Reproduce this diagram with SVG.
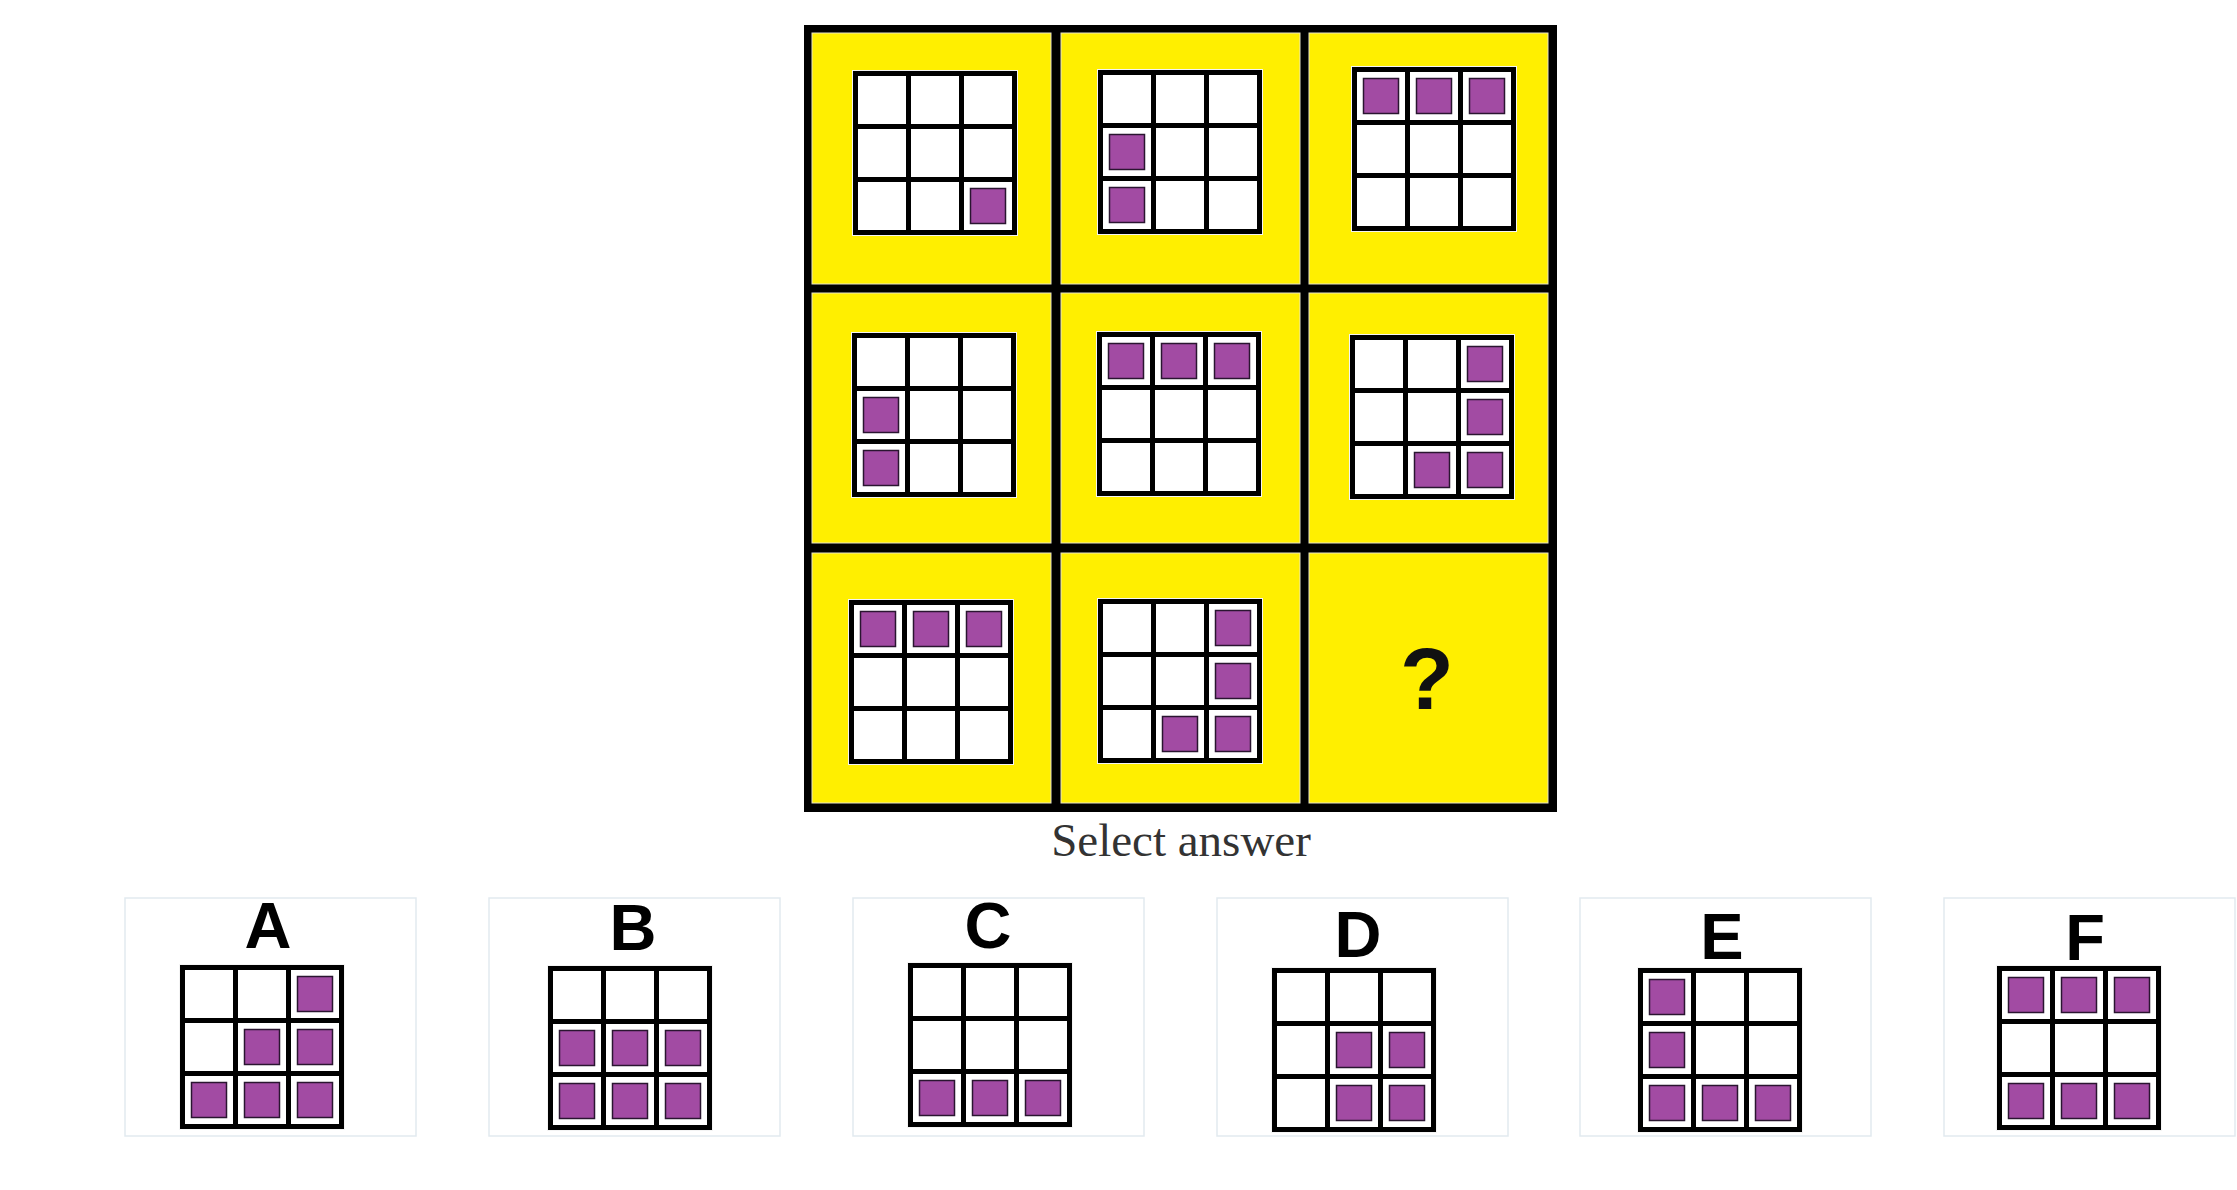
<svg xmlns="http://www.w3.org/2000/svg" xmlns:xlink="http://www.w3.org/1999/xlink" width="2237" height="1190" viewBox="0 0 2237 1190">
<style>
.ylw{fill:#FFEF00;stroke:#e8e4c8;stroke-width:1}
.pp{fill:#A24BA3;stroke:#2a1530;stroke-width:1.5}
.box{fill:#ffffff;stroke:#e2eaef;stroke-width:1.5}
.lbl{font-family:"Liberation Sans",Arial,sans-serif;font-weight:bold;font-size:65px;fill:#000;text-anchor:middle}
.q{font-family:"Liberation Sans",Arial,sans-serif;font-weight:bold;font-size:88px;fill:#111;text-anchor:middle}
.sel{font-family:"Liberation Serif","Times New Roman",serif;font-size:47px;fill:#333;text-anchor:middle}
</style>
<defs>
<g id="g3">
<rect x="-1" y="-1" width="166" height="166" fill="#f4f4f4"/>
<rect x="0" y="0" width="164" height="164" fill="#000"/>
<rect x="5" y="5" width="48" height="48" fill="#fff"/>
<rect x="58" y="5" width="48" height="48" fill="#fff"/>
<rect x="111" y="5" width="48" height="48" fill="#fff"/>
<rect x="5" y="58" width="48" height="48" fill="#fff"/>
<rect x="58" y="58" width="48" height="48" fill="#fff"/>
<rect x="111" y="58" width="48" height="48" fill="#fff"/>
<rect x="5" y="111" width="48" height="48" fill="#fff"/>
<rect x="58" y="111" width="48" height="48" fill="#fff"/>
<rect x="111" y="111" width="48" height="48" fill="#fff"/>
</g>
<rect id="p00" class="pp" x="11.5" y="11.5" width="35" height="35"/>
<rect id="p01" class="pp" x="64.5" y="11.5" width="35" height="35"/>
<rect id="p02" class="pp" x="117.5" y="11.5" width="35" height="35"/>
<rect id="p10" class="pp" x="11.5" y="64.5" width="35" height="35"/>
<rect id="p11" class="pp" x="64.5" y="64.5" width="35" height="35"/>
<rect id="p12" class="pp" x="117.5" y="64.5" width="35" height="35"/>
<rect id="p20" class="pp" x="11.5" y="117.5" width="35" height="35"/>
<rect id="p21" class="pp" x="64.5" y="117.5" width="35" height="35"/>
<rect id="p22" class="pp" x="117.5" y="117.5" width="35" height="35"/>
</defs>
<rect x="0" y="0" width="2237" height="1190" fill="#fff"/>

<g id="matrix">
<rect x="804" y="25" width="753" height="787" fill="#000"/>
<g id="cell-1-1"><rect class="ylw" x="812" y="33" width="239" height="251"/>
<g transform="translate(853,71)"><use xlink:href="#g3"/><use xlink:href="#p22"/></g></g>
<g id="cell-1-2"><rect class="ylw" x="1061" y="33" width="239" height="251"/>
<g transform="translate(1098,70)"><use xlink:href="#g3"/><use xlink:href="#p10"/><use xlink:href="#p20"/></g></g>
<g id="cell-1-3"><rect class="ylw" x="1309" y="33" width="239" height="251"/>
<g transform="translate(1352,67)"><use xlink:href="#g3"/><use xlink:href="#p00"/><use xlink:href="#p01"/><use xlink:href="#p02"/></g></g>
<g id="cell-2-1"><rect class="ylw" x="812" y="293" width="239" height="250"/>
<g transform="translate(852,333)"><use xlink:href="#g3"/><use xlink:href="#p10"/><use xlink:href="#p20"/></g></g>
<g id="cell-2-2"><rect class="ylw" x="1061" y="293" width="239" height="250"/>
<g transform="translate(1097,332)"><use xlink:href="#g3"/><use xlink:href="#p00"/><use xlink:href="#p01"/><use xlink:href="#p02"/></g></g>
<g id="cell-2-3"><rect class="ylw" x="1309" y="293" width="239" height="250"/>
<g transform="translate(1350,335)"><use xlink:href="#g3"/><use xlink:href="#p02"/><use xlink:href="#p12"/><use xlink:href="#p21"/><use xlink:href="#p22"/></g></g>
<g id="cell-3-1"><rect class="ylw" x="812" y="553" width="239" height="250"/>
<g transform="translate(849,600)"><use xlink:href="#g3"/><use xlink:href="#p00"/><use xlink:href="#p01"/><use xlink:href="#p02"/></g></g>
<g id="cell-3-2"><rect class="ylw" x="1061" y="553" width="239" height="250"/>
<g transform="translate(1098,599)"><use xlink:href="#g3"/><use xlink:href="#p02"/><use xlink:href="#p12"/><use xlink:href="#p21"/><use xlink:href="#p22"/></g></g>
<g id="cell-3-3"><rect class="ylw" x="1309" y="553" width="239" height="250"/>
<text class="q" x="1427" y="709">?</text></g>
</g>

<text id="select" class="sel" x="1181" y="856">Select answer</text>

<g id="connectors"></g>

<g id="answer-A"><rect class="box" x="125" y="898" width="291" height="238"/>
<text class="lbl" x="268" y="948">A</text>
<g transform="translate(180,965)"><use xlink:href="#g3"/><use xlink:href="#p02"/><use xlink:href="#p11"/><use xlink:href="#p12"/><use xlink:href="#p20"/><use xlink:href="#p21"/><use xlink:href="#p22"/></g></g>

<g id="answer-B"><rect class="box" x="489" y="898" width="291" height="238"/>
<text class="lbl" x="633" y="950">B</text>
<g transform="translate(548,966)"><use xlink:href="#g3"/><use xlink:href="#p10"/><use xlink:href="#p11"/><use xlink:href="#p12"/><use xlink:href="#p20"/><use xlink:href="#p21"/><use xlink:href="#p22"/></g></g>

<g id="answer-C"><rect class="box" x="853" y="898" width="291" height="238"/>
<text class="lbl" x="988" y="948">C</text>
<g transform="translate(908,963)"><use xlink:href="#g3"/><use xlink:href="#p20"/><use xlink:href="#p21"/><use xlink:href="#p22"/></g></g>

<g id="answer-D"><rect class="box" x="1217" y="898" width="291" height="238"/>
<text class="lbl" x="1358" y="957">D</text>
<g transform="translate(1272,968)"><use xlink:href="#g3"/><use xlink:href="#p11"/><use xlink:href="#p12"/><use xlink:href="#p21"/><use xlink:href="#p22"/></g></g>

<g id="answer-E"><rect class="box" x="1580" y="898" width="291" height="238"/>
<text class="lbl" x="1722" y="959">E</text>
<g transform="translate(1638,968)"><use xlink:href="#g3"/><use xlink:href="#p00"/><use xlink:href="#p10"/><use xlink:href="#p20"/><use xlink:href="#p21"/><use xlink:href="#p22"/></g></g>

<g id="answer-F"><rect class="box" x="1944" y="898" width="291" height="238"/>
<text class="lbl" x="2085" y="960">F</text>
<g transform="translate(1997,966)"><use xlink:href="#g3"/><use xlink:href="#p00"/><use xlink:href="#p01"/><use xlink:href="#p02"/><use xlink:href="#p20"/><use xlink:href="#p21"/><use xlink:href="#p22"/></g></g>
</svg>
